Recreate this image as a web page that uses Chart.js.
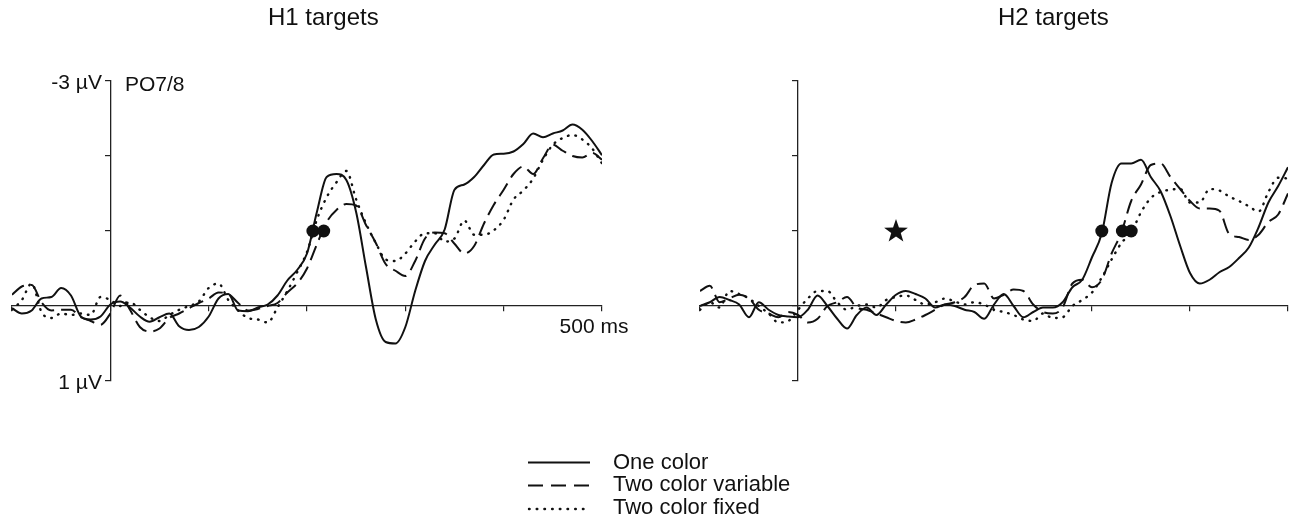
<!DOCTYPE html>
<html>
<head>
<meta charset="utf-8">
<script src="https://cdn.jsdelivr.net/npm/chart.js@4.4.1/dist/chart.umd.min.js"></script>
<style>
  html, body { margin: 0; padding: 0; background: #fff; }
  #wrap { position: relative; width: 1289px; height: 527px; overflow: hidden; font-family: "Liberation Sans", Arial, Helvetica, sans-serif; color: #111; }
  canvas { position: absolute; top: 0; }
  .txt { position: absolute; white-space: nowrap; }
  .title { font-size: 24px; line-height: 24px; }
  .leg { font-size: 22px; line-height: 22px; left: 613px; }
</style>
</head>
<body>
<div id="wrap">
  <canvas id="c1" width="660" height="420" style="left:0px;width:660px;height:420px"></canvas>
  <canvas id="c2" width="660" height="420" style="left:660px;width:660px;height:420px"></canvas>
  <div class="txt title" style="left:268px;top:5px">H1 targets</div>
  <div class="txt title" style="left:998px;top:5px">H2 targets</div>
  <div class="txt" style="left:125px;top:72px;font-size:21px;line-height:24px">PO7/8</div>
  <svg style="position:absolute;left:0;top:0" width="1289" height="527">
    <line x1="528" y1="462.5" x2="590" y2="462.5" stroke="#111" stroke-width="2"/>
    <line x1="528" y1="485.5" x2="590" y2="485.5" stroke="#111" stroke-width="2" stroke-dasharray="15 8"/>
    <line x1="529" y1="509" x2="590" y2="509" stroke="#111" stroke-width="2.4" stroke-dasharray="0.6 7.1" stroke-linecap="round"/>
  </svg>
  <div class="txt leg" style="top:451px">One color</div>
  <div class="txt leg" style="top:473px">Two color variable</div>
  <div class="txt leg" style="top:496px">Two color fixed</div>
</div>
<script>
// ---- data ----
const times = [-100,-90,-80,-70,-60,-50,-40,-30,-20,-10,0,10,20,30,40,50,60,70,80,90,100,110,120,130,140,150,160,170,180,190,200,210,220,230,240,250,260,270,280,290,300,310,320,330,340,350,360,370,380,390,400,410,420,430,440,450,460,470,480,490,500];

const seriesNames = ["One color", "Two color variable", "Two color fixed"];

// H1 targets (µV)
const h1OneColor = [0.03,0.1,0.06,-0.1,-0.12,-0.24,-0.14,0.14,0.18,0.14,-0.02,-0.06,0.02,0.14,0.21,0.15,0.1,0.27,0.32,0.28,0.14,-0.1,-0.16,0.06,0.07,0.02,-0.02,-0.14,-0.34,-0.48,-0.7,-1.25,-1.72,-1.76,-1.68,-1.25,-0.52,0.18,0.48,0.5,0.28,-0.2,-0.6,-0.82,-1.02,-1.55,-1.62,-1.72,-1.88,-2.02,-2.03,-2.06,-2.16,-2.3,-2.25,-2.3,-2.34,-2.42,-2.35,-2.2,-2.01];
const h1TwoVar = [-0.15,-0.26,-0.28,-0.05,0.06,0.05,0.05,0.15,0.2,0.25,0.1,-0.14,0.05,0.28,0.34,0.3,0.16,0.1,0.03,-0.04,-0.1,-0.18,-0.16,-0.04,0.06,0.04,0.0,-0.04,-0.18,-0.3,-0.5,-0.82,-1.12,-1.28,-1.36,-1.34,-1.08,-0.84,-0.56,-0.47,-0.4,-0.6,-0.9,-0.98,-0.97,-0.83,-0.7,-0.8,-1.1,-1.35,-1.55,-1.76,-1.86,-1.76,-1.97,-2.15,-2.07,-2.0,-1.98,-2.04,-1.95];
const h1TwoFixed = [0.05,-0.08,-0.3,0.08,0.16,0.1,0.12,0.1,0.12,-0.12,-0.08,0.0,-0.05,0.05,0.15,0.2,0.12,0.05,0.0,-0.06,-0.24,-0.3,-0.08,0.06,0.16,0.18,0.22,0.02,-0.2,-0.45,-0.72,-1.15,-1.45,-1.65,-1.8,-1.42,-1.1,-0.84,-0.62,-0.6,-0.7,-0.86,-0.97,-0.97,-0.86,-0.9,-1.14,-0.95,-0.95,-1.01,-1.15,-1.42,-1.54,-1.7,-1.95,-2.15,-2.24,-2.28,-2.22,-2.1,-1.9];

// H2 targets (µV)
const h2OneColor = [0.0,-0.05,-0.12,-0.08,-0.02,0.15,-0.05,0.05,0.12,0.14,0.15,0.05,-0.14,0.0,0.17,0.3,0.12,0.02,0.12,-0.02,-0.15,-0.2,-0.16,-0.1,0.02,-0.02,0.0,0.05,0.08,0.17,-0.02,-0.16,0.0,0.15,0.08,0.02,0.02,-0.05,-0.25,-0.35,-0.65,-0.97,-1.64,-1.9,-1.9,-1.95,-1.72,-1.53,-1.2,-0.8,-0.44,-0.3,-0.35,-0.45,-0.52,-0.64,-0.78,-1.05,-1.38,-1.6,-1.85];
const h2TwoVar = [-0.2,-0.27,-0.05,-0.1,-0.15,-0.1,0.05,0.1,0.15,0.08,0.12,0.22,0.17,0.0,-0.05,-0.12,0.02,0.05,0.1,0.15,0.2,0.22,0.18,0.12,0.05,-0.02,-0.05,-0.12,-0.28,-0.3,-0.1,-0.15,-0.22,-0.2,-0.02,0.08,0.1,0.02,-0.3,-0.35,-0.25,-0.35,-0.7,-0.98,-1.4,-1.62,-1.88,-1.9,-1.72,-1.56,-1.4,-1.3,-1.3,-1.27,-0.96,-0.92,-0.88,-0.95,-1.12,-1.22,-1.5];
const h2TwoFixed = [0.05,-0.05,0.02,-0.2,-0.16,-0.1,0.0,0.1,0.22,0.2,0.05,-0.1,-0.2,-0.2,-0.05,0.05,0.0,-0.02,0.02,-0.08,-0.12,-0.14,-0.08,-0.02,-0.05,-0.1,-0.06,-0.02,-0.05,-0.02,0.05,0.08,0.12,0.18,0.2,0.1,0.16,0.15,0.0,-0.08,-0.18,-0.38,-0.62,-0.84,-0.98,-1.25,-1.44,-1.52,-1.55,-1.56,-1.38,-1.38,-1.56,-1.54,-1.46,-1.4,-1.33,-1.26,-1.52,-1.71,-1.7];

// onset markers (ms, µV) and significance star
const h1OnsetTimes = [206, 217];
const h2OnsetTimes = [310, 331, 340];
const onsetLevel = -1;
const h2StarTime = 100;

// axis ticks
const xTicks = [-100, 0, 100, 200, 300, 400, 500];
const yTicks = [-3, -2, -1, 0, 1];
const yTickLabels = {"-3": "-3 µV", "1": "1 µV"};
const xTickLabels = {"500": "500 ms"};

// ---- drawing ----
const INK = '#111';
const AXIS = '#222';
const FONT = '"Liberation Sans", Arial, Helvetica, sans-serif';
const GAP = '\u2009\u2009'; // gap between centred-axis label and its tick

function pts(vals) { return vals.map((v, i) => ({x: times[i], y: v})); }

const starImg = (function () {
  const c = document.createElement('canvas');
  c.width = 26; c.height = 26;
  const g = c.getContext('2d');
  g.fillStyle = INK;
  g.beginPath();
  for (let k = 0; k < 10; k++) {
    const r = (k % 2 === 0) ? 12.5 : 5;
    const a = -Math.PI / 2 + k * Math.PI / 5;
    const px = 13 + r * Math.cos(a), py = 13.5 + r * Math.sin(a);
    if (k === 0) g.moveTo(px, py); else g.lineTo(px, py);
  }
  g.closePath();
  g.fill();
  return c;
})();

function lineSets(a, b, c) {
  const common = {pointRadius: 0, cubicInterpolationMode: 'monotone', fill: false, borderColor: INK};
  return [
    Object.assign({label: seriesNames[0], data: pts(a), borderWidth: 2}, common),
    Object.assign({label: seriesNames[1], data: pts(b), borderWidth: 2, borderDash: [15, 7]}, common),
    Object.assign({label: seriesNames[2], data: pts(c), borderWidth: 2.4, borderDash: [0.6, 7], borderCapStyle: 'round'}, common)
  ];
}

function makeChart(id, datasets, padding, showLabels) {
  return new Chart(document.getElementById(id), {
    type: 'line',
    data: {datasets},
    options: {
      responsive: false,
      animation: false,
      devicePixelRatio: 1,
      layout: {padding},
      plugins: {legend: {display: false}, tooltip: {enabled: false}},
      scales: {
        x: {
          type: 'linear', min: -100, max: 500,
          position: {y: 0},
          afterBuildTicks: s => { s.ticks = xTicks.map(v => ({value: v})); },
          grid: {display: true, drawOnChartArea: false, drawTicks: true, tickLength: 5, color: AXIS, lineWidth: 1.2},
          border: {display: true, color: AXIS, width: 1.3},
          ticks: {
            autoSkip: false, maxRotation: 0, padding: 4, labelOffset: -8,
            color: INK, font: {family: FONT, size: 21},
            callback: v => showLabels ? (xTickLabels[String(v)] || '') : ''
          }
        },
        y: {
          type: 'linear', min: -3, max: 1, reverse: true,
          position: {x: 0},
          afterBuildTicks: s => { s.ticks = yTicks.map(v => ({value: v})); },
          grid: {display: true, drawOnChartArea: false, drawTicks: true, tickLength: 5, color: AXIS, lineWidth: 1.2},
          border: {display: true, color: AXIS, width: 1.3},
          ticks: {
            autoSkip: false, padding: 3, labelOffset: 2,
            color: INK, font: {family: FONT, size: 21},
            callback: v => (showLabels && yTickLabels[String(v)]) ? yTickLabels[String(v)] + GAP : ''
          }
        }
      }
    }
  });
}

const onsetStyle = {type: 'scatter', showLine: false, pointStyle: 'circle', pointRadius: 6.5, backgroundColor: INK, borderColor: INK, borderWidth: 0};

makeChart('c1', lineSets(h1OneColor, h1TwoVar, h1TwoFixed).concat([
  Object.assign({label: 'onsets', data: h1OnsetTimes.map(t => ({x: t, y: onsetLevel}))}, onsetStyle)
]), {left: 12, top: 81, right: 58, bottom: 39}, true);

makeChart('c2', lineSets(h2OneColor, h2TwoVar, h2TwoFixed).concat([
  Object.assign({label: 'onsets', data: h2OnsetTimes.map(t => ({x: t, y: onsetLevel}))}, onsetStyle),
  {label: 'star', type: 'scatter', showLine: false, data: [{x: h2StarTime, y: onsetLevel}], pointStyle: starImg, pointRadius: 12}
]), {left: 40, top: 81, right: 32, bottom: 39}, false);
</script>
</body>
</html>
